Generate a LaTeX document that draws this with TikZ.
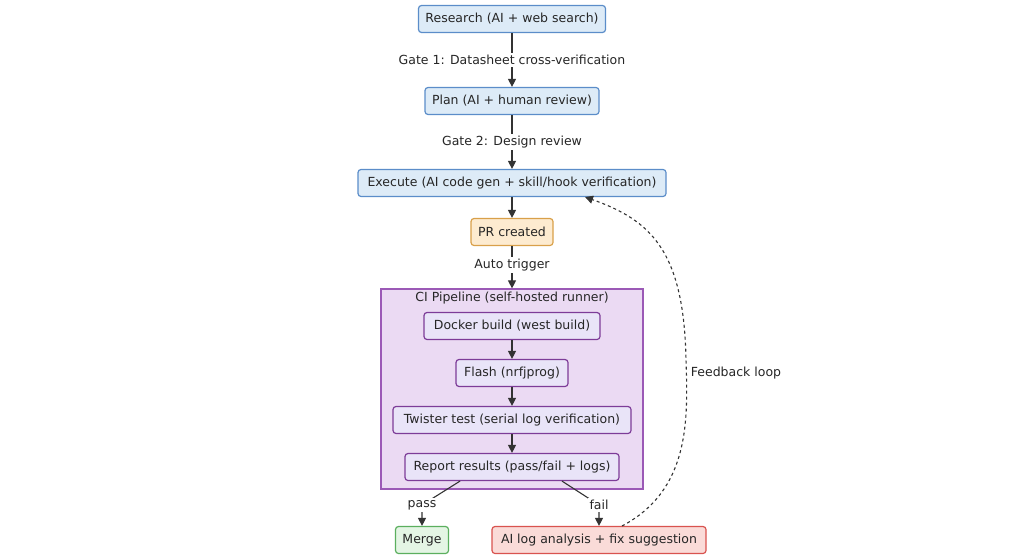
\documentclass[tikz,border=0pt]{standalone}
\usepackage{fontspec}
\setmainfont{DejaVu Sans}
\usetikzlibrary{arrows.meta}
\definecolor{bf}{HTML}{DDEBF7}\definecolor{bs}{HTML}{5B8DC9}
\definecolor{of}{HTML}{FDEBD0}\definecolor{os}{HTML}{D9A04A}
\definecolor{cf}{HTML}{EBDAF3}\definecolor{cs}{HTML}{9B59B6}
\definecolor{pf}{HTML}{E9E4F8}\definecolor{ps}{HTML}{7D3C98}
\definecolor{gf}{HTML}{E4F5E4}\definecolor{gs}{HTML}{5BAF5E}
\definecolor{rf}{HTML}{FADBD8}\definecolor{rs}{HTML}{D9534F}
\begin{document}
\begin{tikzpicture}[x=1pt,y=-1pt,
 fnt/.style={font=\fontsize{12.5}{14}\selectfont,text=black!85},
 box/.style={draw,rounded corners=3pt,line width=1.2pt,minimum height=27pt,inner xsep=2pt,fnt},
 blue/.style={box,fill=bf,draw=bs},
 orange/.style={box,fill=of,draw=os},
 inner/.style={box,fill=pf,draw=ps},
 green/.style={box,fill=gf,draw=gs},
 red/.style={box,fill=rf,draw=rs},
 lab/.style={fill=white,inner sep=2pt,fnt},
 ar/.style={draw=black!80,line width=1.1pt,-{Triangle[length=8pt,width=8pt]}}]
\useasboundingbox (0,0) rectangle (1024,559);
\node[draw=cs,fill=cf,line width=1.2pt,minimum width=262pt,minimum height=200pt] (ci) at (512,389) {};
\node[fnt] (cit) at (512,298) {CI Pipeline (self-hosted runner)};
\node[blue,minimum width=187pt] (r) at (512,19) {Research (AI + web search)};
\node[blue,minimum width=174pt] (p) at (512,101) {Plan (AI + human review)};
\node[blue,minimum width=308pt] (e) at (512,183) {Execute (AI code gen + skill/hook verification)};
\node[orange,minimum width=82pt] (pr) at (512,232) {PR created};
\node[inner,minimum width=176pt] (d) at (512,326) {Docker build (west build)};
\node[inner,minimum width=112pt] (f) at (512,373) {Flash (nrfjprog)};
\node[inner,minimum width=238pt] (t) at (512,420) {Twister test (serial log verification)};
\node[inner,minimum width=214pt] (rep) at (512,467) {Report results (pass/fail + logs)};
\node[green,minimum width=53pt] (m) at (422,540) {Merge};
\node[red,minimum width=214pt] (ai) at (599,540) {AI log analysis + fix suggestion};
\draw[ar] (r) -- node[lab]{Gate 1: Datasheet cross-verification} (p);
\draw[ar] (p) -- node[lab]{Gate 2: Design review} (e);
\draw[ar] (e) -- (pr);
\draw[ar] (pr) -- node[lab,pos=0.45]{Auto trigger} (ci.north);
\draw[ar] (d) -- (f);
\draw[ar] (f) -- (t);
\draw[ar] (t) -- (rep);
\coordinate (pc) at (422,505);
\coordinate (fc) at (599,505);
\draw[ar] (rep.south -| 460,0) -- (pc) node[lab]{pass} -- (m);
\draw[ar] (rep.south -| 562,0) -- (fc) node[lab]{fail} -- (ai);
\draw[ar,dashed] (622,526) .. controls (690,490) and (688,420) .. (686,360) .. controls (684,250) and (650,220) .. (585,197);
\node[lab] at (736,373) {Feedback loop};
\end{tikzpicture}
\end{document}
